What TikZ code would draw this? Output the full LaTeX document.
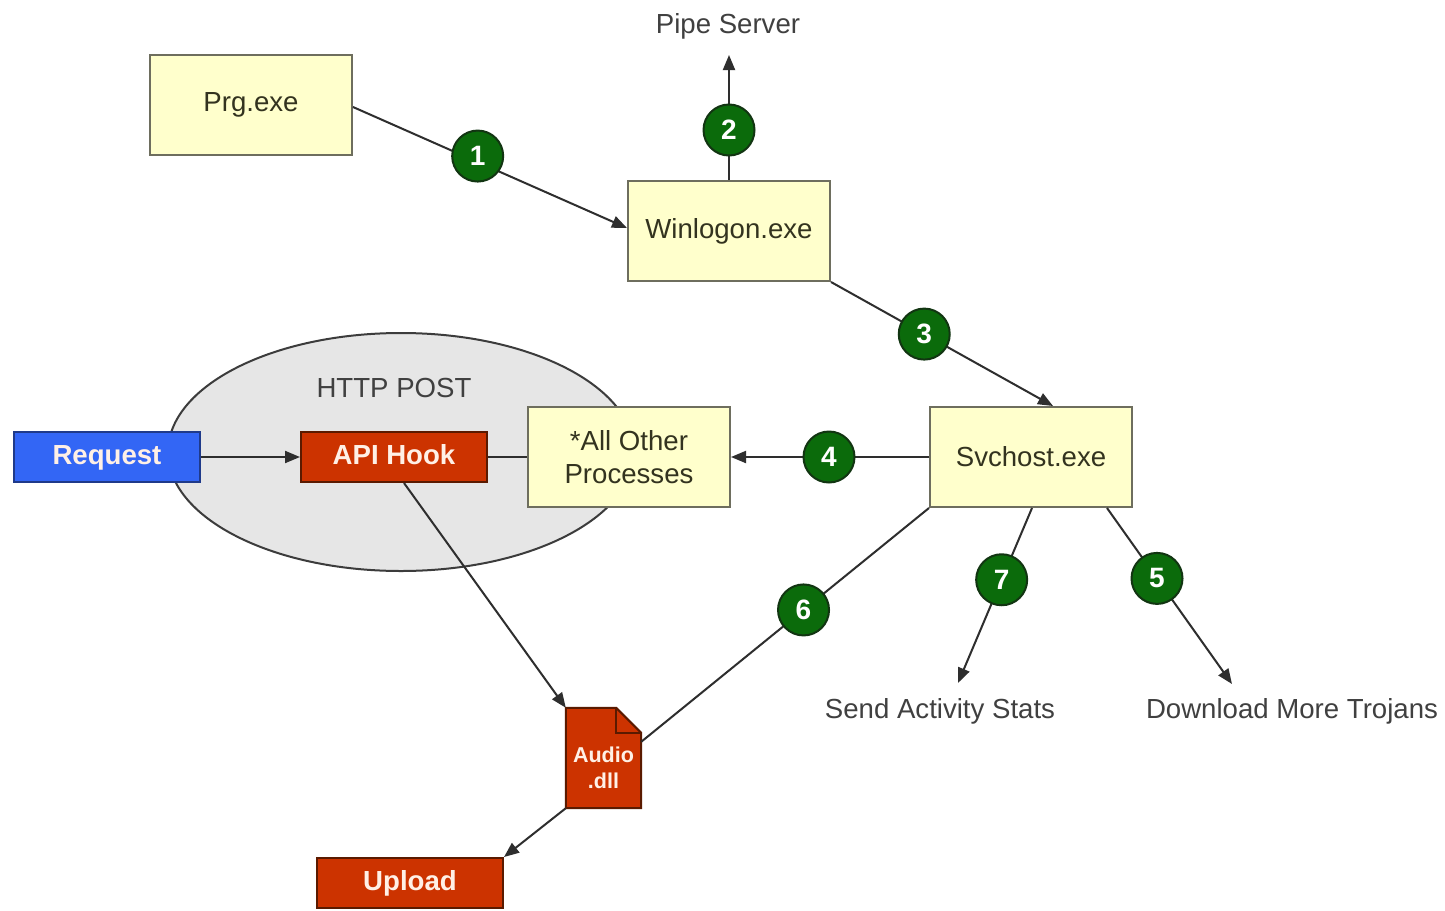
\documentclass[tikz,border=0pt]{standalone}
\usepackage{fontspec}
\setmainfont{Liberation Sans}
\usetikzlibrary{arrows.meta,backgrounds,shapes.geometric}
\definecolor{boxfill}{HTML}{FFFFCC}
\definecolor{boxline}{HTML}{6E6E5E}
\definecolor{boxtext}{HTML}{33331F}
\definecolor{numfill}{HTML}{0B6B0B}
\definecolor{numline}{HTML}{123512}
\definecolor{ellfill}{HTML}{E6E6E6}
\definecolor{ellline}{HTML}{3C3C3C}
\definecolor{reqfill}{HTML}{3366F5}
\definecolor{reqline}{HTML}{1F3A8A}
\definecolor{redfill}{HTML}{CC3300}
\definecolor{redline}{HTML}{5A1A00}
\definecolor{redtext}{HTML}{FFF0E6}
\definecolor{lbltext}{HTML}{404040}
\definecolor{conn}{HTML}{2E2E2E}
\tikzset{
  x=1pt,y=-1pt,
  ybox/.style={draw=boxline,line width=2pt,fill=boxfill,minimum width=202pt,minimum height=100pt,inner sep=0pt,text=boxtext,font=\fontsize{27.6}{33}\selectfont,align=center},
  cbox/.style={draw=#1line,line width=2pt,fill=#1fill,minimum width=186pt,minimum height=50pt,inner sep=0pt,text height=20pt,text depth=6pt,text=redtext,font=\fontsize{27.6}{33}\selectfont\bfseries},
  numc/.style={circle,draw=numline,line width=2pt,fill=numfill,minimum size=51pt,inner sep=0pt,text=white,font=\fontsize{28}{30}\selectfont\bfseries},
  lbl/.style={text=lbltext,font=\fontsize{27.6}{33}\selectfont,inner sep=0pt,text height=20pt,text depth=6pt},
  link/.style={draw=conn,line width=2pt},
  arr/.style={link,-{Triangle[length=15pt,width=12pt]}},
}
\begin{document}
\begin{tikzpicture}
\useasboundingbox (0,0) rectangle (1445,910);
\begin{scope}[on background layer]
\fill[white] (0,0) rectangle (1445,910);
\end{scope}
% ellipse
\node[ellipse,draw=ellline,line width=2pt,fill=ellfill,minimum width=466pt,minimum height=238pt,inner sep=0pt] (ell) at (401,452) {};
\node[lbl] (http) at (394,390) {HTTP POST};
% boxes
\node[ybox] (prg) at (251,105) {Prg.exe};
\node[ybox] (win) at (729,231) {Winlogon.exe};
\node[ybox] (svc) at (1031,457) {Svchost.exe};
\node[ybox] (oth) at (629,457) {*All Other\\Processes};
\node[cbox=req] (req) at (107,457) {Request};
\node[cbox=red] (api) at (394,457) {API Hook};
\node[cbox=red] (upl) at (410,883) {Upload};
% Audio.dll document
\node[minimum width=75pt,minimum height=100pt,inner sep=0pt] (aud) at (603.5,758) {};
\begin{scope}[on background layer]
\filldraw[fill=redfill,draw=redline,line width=2pt,line join=miter]
  (aud.south west) -- (aud.north west) -- ([xshift=-25pt]aud.north east) -- ([yshift=-25pt]aud.north east) -- (aud.south east) -- cycle;
\draw[draw=redline,line width=2pt] ([xshift=-25pt]aud.north east) -- ([xshift=-25pt,yshift=-25pt]aud.north east) -- ([yshift=-25pt]aud.north east);
\end{scope}
\node[inner sep=0pt,text=redtext,font=\fontsize{21.5}{26}\selectfont\bfseries,align=center] (audtxt) at (603.5,768) {Audio\\.dll};
% labels
\node[lbl] (pipe) at (728,26) {Pipe Server};
\node[lbl] (send) at (940,711) {Send Activity Stats};
\node[lbl] (down) at (1292,711) {Download More Trojans};
\coordinate (pipeend) at (729,55);
\coordinate (sendend) at (958,683);
\coordinate (downend) at (1232,684);
% connectors
\draw[arr] ([yshift=-2pt]prg.east) -- node[numc,pos=0.455,yshift=6pt] (n1) {1} ([yshift=3pt]win.west);
\draw[arr] (win.north) -- node[numc,pos=0.40] (n2) {2} (pipeend);
\draw[arr] (win.south east) -- node[numc,pos=0.42] (n3) {3} ([xshift=22pt]svc.north);
\draw[arr] (svc.west) -- node[numc,pos=0.505] (n4) {4} (oth.east);
\draw[arr] ([xshift=76pt]svc.south) -- node[numc,pos=0.40] (n5) {5} (downend);
\draw[link] (svc.south west) -- node[numc,pos=0.436] (n6) {6} ([yshift=-34pt]aud.north east);
\draw[arr] ([xshift=1pt]svc.south) -- node[numc,pos=0.41] (n7) {7} (sendend);
\draw[arr] (req.east) -- (api.west);
\draw[link] (api.east) -- (oth.west);
\draw[arr] ([xshift=10pt]api.south) -- (aud.north west);
\draw[arr] (aud.south west) -- (upl.north east);
\end{tikzpicture}
\end{document}
